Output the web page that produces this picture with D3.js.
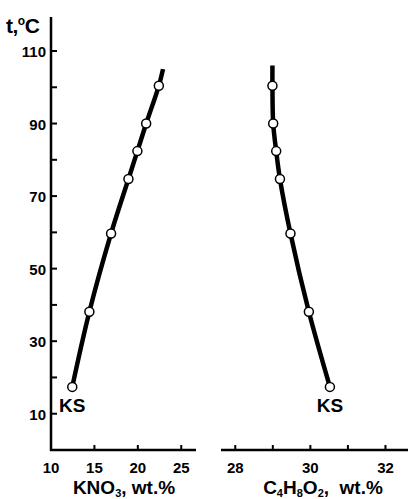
<!DOCTYPE html>
<html>
<head>
<meta charset="utf-8">
<script src="https://cdn.jsdelivr.net/npm/d3@7"></script>
<style>
  body { margin: 0; background: #fff; }
  svg { font-family: "Liberation Sans", Arial, sans-serif; font-weight: bold; }
</style>
</head>
<body>
<svg width="408" height="499"></svg>
<script>
// temperatures of the measured points, degC
var temps = [17.4, 38.1, 59.7, 74.7, 82.4, 90.0, 100.4];
// KNO3 content, wt.%
var kno3 = [12.45, 14.42, 16.92, 18.92, 19.95, 20.96, 22.42];
// ethyl acetate (C4H8O2) content, wt.%
var c4h8o2 = [30.52, 29.96, 29.47, 29.19, 29.09, 29.01, 28.99];
// where the drawn curves run out above the last point
var kno3End = {t: 105, v: 22.9};
var c4End = {t: 106, v: 28.99};

var yTicks = [10, 30, 50, 70, 90, 110];
var yMinor = [20, 40, 60, 80, 100];
var kno3Ticks = [10, 15, 20, 25];
var c4Ticks = [28, 29, 30, 31, 32];
var c4Labels = [28, 30, 32];

var svg = d3.select("svg");

var y = d3.scaleLinear().domain([0, 110]).range([450, 51]);
var xL = d3.scaleLinear().domain([10, 26.7]).range([51, 196]);
var xR = d3.scaleLinear().domain([27.62, 32.6]).range([221, 408]);

// y axis
svg.append("line").attr("x1", 51).attr("x2", 51).attr("y1", 17).attr("y2", 451)
    .attr("stroke", "#000").attr("stroke-width", 2.5);
svg.selectAll(".ytick").data(yTicks.concat(yMinor)).enter().append("line")
    .attr("x1", 51).attr("x2", 57)
    .attr("y1", function(d) { return y(d); }).attr("y2", function(d) { return y(d); })
    .attr("stroke", "#000").attr("stroke-width", 2);
svg.selectAll(".ylab").data(yTicks).enter().append("text")
    .attr("x", 46).attr("y", function(d) { return y(d) + 6; })
    .attr("text-anchor", "end").style("font-size", "15px")
    .text(function(d) { return d; });

var tl = svg.append("text").attr("x", 6).attr("y", 33).style("font-size", "21px").style("letter-spacing", "-0.5px");
tl.append("tspan").text("t,");
tl.append("tspan").attr("dy", -8).style("font-size", "12px").text("o");
tl.append("tspan").attr("dy", 8).text("C");

// left x axis
svg.append("line").attr("x1", 50).attr("x2", 196).attr("y1", 450).attr("y2", 450)
    .attr("stroke", "#000").attr("stroke-width", 2.5);
svg.selectAll(".xlt").data(kno3Ticks.slice(1)).enter().append("line")
    .attr("x1", function(d) { return xL(d); }).attr("x2", function(d) { return xL(d); })
    .attr("y1", 450).attr("y2", 445).attr("stroke", "#000").attr("stroke-width", 2);
svg.selectAll(".xll").data(kno3Ticks).enter().append("text")
    .attr("x", function(d) { return xL(d); }).attr("y", 473)
    .attr("text-anchor", "middle").style("font-size", "15px")
    .text(function(d) { return d; });
var lx = svg.append("text").attr("x", 124).attr("y", 494).attr("text-anchor", "middle").style("font-size", "19px");
lx.append("tspan").text("KNO");
lx.append("tspan").attr("dy", 3).style("font-size", "11px").text("3");
lx.append("tspan").attr("dy", -3).text(", wt.%");

// right x axis
svg.append("line").attr("x1", 221).attr("x2", 408).attr("y1", 450).attr("y2", 450)
    .attr("stroke", "#000").attr("stroke-width", 2.5);
svg.selectAll(".xrt").data(c4Ticks).enter().append("line")
    .attr("x1", function(d) { return xR(d); }).attr("x2", function(d) { return xR(d); })
    .attr("y1", 450).attr("y2", 445).attr("stroke", "#000").attr("stroke-width", 2);
svg.selectAll(".xrl").data(c4Labels).enter().append("text")
    .attr("x", function(d) { return xR(d); }).attr("y", 473)
    .attr("text-anchor", "middle").style("font-size", "15px")
    .text(function(d) { return d; });
var rx = svg.append("text").attr("x", 323).attr("y", 494).attr("text-anchor", "middle").style("font-size", "19px");
rx.append("tspan").text("C");
rx.append("tspan").attr("dy", 3).style("font-size", "11px").text("4");
rx.append("tspan").attr("dy", -3).text("H");
rx.append("tspan").attr("dy", 3).style("font-size", "11px").text("8");
rx.append("tspan").attr("dy", -3).text("O");
rx.append("tspan").attr("dy", 3).style("font-size", "11px").text("2");
rx.append("tspan").attr("dy", -3).text(",\u00a0 wt.%");

function drawCurve(vals, end, x) {
  var pts = temps.map(function(t, i) { return {t: t, v: vals[i]}; });
  var line = d3.line()
      .x(function(d) { return x(d.v); })
      .y(function(d) { return y(d.t); })
      .curve(d3.curveCatmullRom);
  svg.append("path").datum(pts.concat([end]))
      .attr("d", line).attr("fill", "none")
      .attr("stroke", "#000").attr("stroke-width", 4.5);
  svg.append("g").selectAll("circle").data(pts).enter().append("circle")
      .attr("cx", function(d) { return x(d.v); })
      .attr("cy", function(d) { return y(d.t); })
      .attr("r", 4.5).attr("fill", "#fff")
      .attr("stroke", "#000").attr("stroke-width", 1.5);
  svg.append("text").attr("x", x(pts[0].v)).attr("y", 412)
      .attr("text-anchor", "middle").style("font-size", "19px").text("KS");
}

drawCurve(kno3, kno3End, xL);
drawCurve(c4h8o2, c4End, xR);
</script>
</body>
</html>
